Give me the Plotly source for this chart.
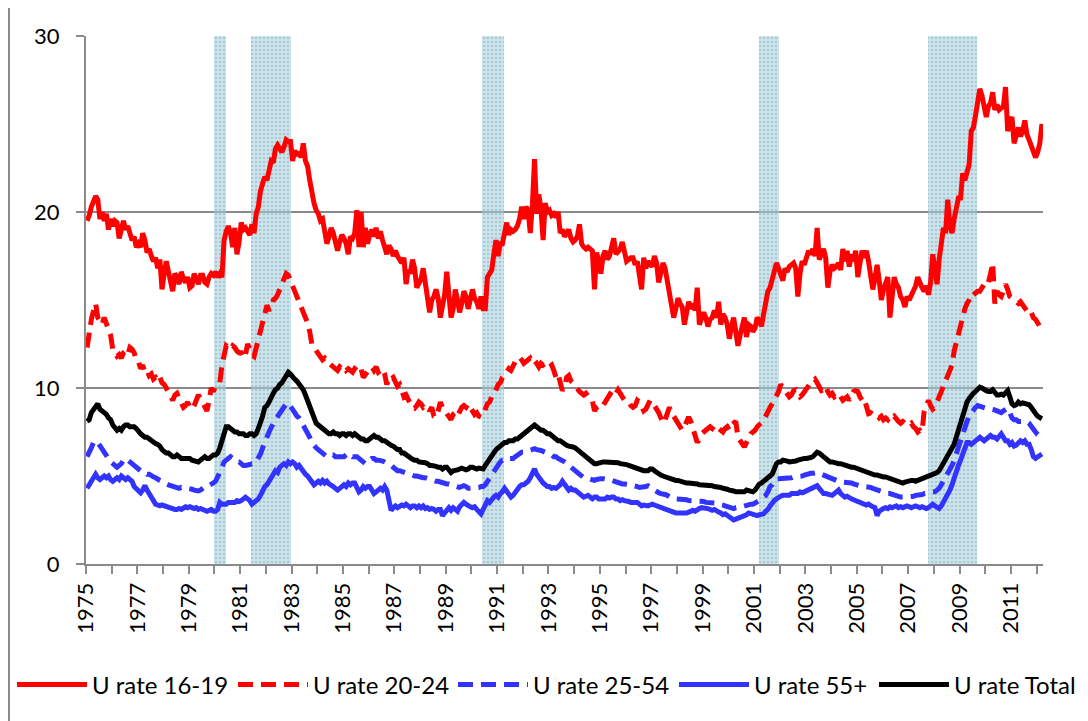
import plotly.graph_objects as go

# monthly unemployment rates, Jan 1975 - Mar 2012 (one row per year)
u_16_19 = [
    19.5, 19.8, 20.3, 20.6, 20.9, 20.7, 19.6, 20.0, 19.5, 19.9, 19.0, 19.6,
    19.2, 19.5, 19.4, 18.5, 19.1, 19.5, 19.0, 19.2, 18.8, 18.4, 18.6, 18.0,
    18.2, 18.0, 18.8, 18.4, 17.7, 17.9, 17.5, 17.2, 17.4, 16.8, 17.3, 15.6,
    16.5, 17.2, 16.6, 15.9, 15.5, 16.5, 16.3, 15.9, 16.6, 16.2, 16.0, 16.3,
    15.7, 15.8, 16.5, 16.2, 15.9, 16.4, 16.4, 16.0, 15.9, 16.3, 16.5, 16.4,
    16.6, 16.3, 16.5, 16.3, 18.4, 18.9, 19.2, 18.8, 18.0, 19.1, 17.6, 18.3,
    19.4, 19.0, 19.1, 18.9, 18.7, 19.3, 18.8, 19.9, 20.3, 21.2, 21.6, 22.0,
    21.8, 22.4, 22.9, 22.8, 23.6, 23.8, 23.6, 23.4, 23.7, 24.1, 24.0, 24.0,
    22.9, 23.5, 23.2, 23.4, 23.1, 23.9, 22.9, 22.6, 21.8, 21.0, 20.5, 20.1,
    19.9, 19.5, 19.6, 18.9, 18.2, 18.6, 19.1, 18.8, 18.4, 17.8, 18.3, 18.7,
    18.5, 18.2, 17.6, 18.6, 18.5, 18.8, 20.1, 18.0, 20.0, 18.0, 19.1, 18.2,
    18.7, 19.0, 18.6, 19.1, 18.5, 18.9, 18.4, 18.0, 17.6, 18.1, 17.9, 17.5,
    17.8, 17.5, 17.3, 17.1, 17.4, 15.9, 16.7, 16.5, 17.3, 16.8, 15.7, 16.0,
    16.2, 16.8, 16.1, 15.4, 14.3, 15.0, 15.2, 15.6, 15.1, 14.0, 14.8, 15.3,
    16.6, 15.3, 14.0, 14.5, 15.6, 15.0, 14.3, 14.8, 15.5, 15.2, 14.5, 15.0,
    15.6, 15.1, 14.9, 14.5, 15.2, 14.5, 14.5, 16.3, 16.5, 16.7, 17.6, 18.4,
    17.5, 18.2, 18.2, 18.7, 19.4, 18.7, 19.0, 18.9, 19.0, 19.2, 19.6, 20.3,
    19.6, 20.3, 20.1, 18.8, 20.4, 23.0, 19.9, 21.0, 20.2, 18.4, 20.5, 20.0,
    20.1, 19.8, 19.9, 19.7, 20.0, 18.8, 19.0, 18.6, 18.8, 19.0, 18.5, 18.3,
    18.4, 18.6, 19.3, 18.2, 18.0, 17.9, 18.0, 17.9, 17.8, 15.6, 17.7, 17.2,
    16.5, 17.5, 17.8, 17.3, 17.5, 18.0, 18.5, 17.6, 17.8, 17.9, 18.3, 17.7,
    17.2, 17.3, 17.4, 17.4, 17.0, 17.2, 16.5, 15.6, 17.4, 16.8, 17.2, 17.0,
    16.9, 17.5, 17.1, 16.0, 16.5, 17.1, 16.8, 16.1, 15.6, 14.9, 14.0, 14.5,
    15.1, 14.8, 14.6, 13.6, 14.2, 14.9, 14.5, 14.8, 14.4, 15.7, 13.6, 14.0,
    14.3, 14.0, 13.5, 13.9, 14.0, 14.4, 14.0, 14.9, 13.6, 14.2, 14.0, 13.6,
    12.8, 13.5, 14.0, 13.2, 12.4, 13.0, 13.5, 14.0, 12.9, 13.6, 13.5, 13.2,
    13.4, 14.0, 13.8, 13.5, 14.2, 15.0, 15.5, 15.7, 16.2, 16.4, 17.1, 16.8,
    16.5, 16.1, 16.8, 16.6, 16.9, 17.0, 17.1, 16.8, 15.2, 16.5, 17.2, 17.0,
    17.4, 17.8, 17.6, 17.9, 17.5, 19.1, 17.3, 17.6, 17.9, 17.4, 15.7, 16.6,
    17.0, 16.8, 16.9, 17.1, 16.7, 17.9, 17.2, 17.8, 16.9, 17.6, 17.2, 17.8,
    16.3, 17.1, 17.8, 17.4, 17.8, 17.2, 16.3, 15.6, 16.2, 17.0, 16.1, 15.0,
    15.6, 16.1, 16.3, 14.0, 15.5, 16.3, 15.9, 15.7, 15.2, 15.0, 14.6, 15.2,
    15.0, 15.3, 15.6, 15.8, 16.3, 15.9, 15.7, 15.5, 15.8, 15.3, 16.0, 17.6,
    16.5, 15.9, 17.3, 18.0, 19.1, 18.8, 20.7, 19.2, 18.8, 19.6, 20.3, 20.8,
    20.8, 22.2, 21.8, 22.4, 22.7, 24.6, 24.8, 25.5, 26.2, 27.0, 26.6, 26.1,
    25.4, 26.0, 26.2, 26.8, 25.8, 26.1, 25.8, 25.9, 26.0, 27.1, 24.6, 25.1,
    25.4, 23.9, 24.5, 24.8, 24.3, 24.6, 25.2, 24.4, 24.1, 23.7, 23.4, 23.1,
    23.4, 23.9, 25.0,
]

u_20_24 = [
    12.3, 13.3, 13.9, 14.4, 14.8, 14.0, 13.8, 13.6, 14.0, 13.7, 13.3, 13.0,
    12.2, 12.0, 11.8, 11.9, 11.7, 12.0, 12.1, 11.9, 12.3, 12.2, 12.0, 11.6,
    11.5, 11.1, 11.3, 10.9, 11.0, 10.7, 10.8, 10.5, 10.6, 10.4, 10.6, 10.3,
    10.2, 10.0, 9.8, 9.5, 9.3, 9.6, 9.7, 9.4, 9.1, 8.9, 9.0, 9.2,
    8.9, 8.8, 9.0, 9.3, 9.6, 9.4, 9.2, 9.0, 8.7, 9.3, 10.0, 9.8,
    10.1, 10.2, 10.3, 11.3, 12.0, 12.4, 12.3, 12.2, 12.4, 12.3, 12.1, 12.0,
    12.0, 11.7, 11.9, 12.5, 12.2, 11.9, 11.8, 12.3, 12.7, 13.1, 13.6, 14.2,
    14.7, 14.4, 14.6, 15.0, 15.1, 15.3, 15.6, 15.9, 16.2, 16.5, 16.4, 16.1,
    15.8, 15.4, 15.1, 14.8, 14.5, 14.2, 14.0, 13.7, 13.2, 12.5, 12.3, 12.1,
    12.0, 11.8, 11.6, 11.7, 11.5, 11.4, 11.3, 11.2, 11.1, 11.0, 11.2, 11.1,
    11.2, 11.0, 11.1, 11.0, 10.9, 11.1, 11.0, 11.2, 11.1, 10.6, 10.8, 11.0,
    11.1, 11.2, 11.0, 11.2, 10.9, 11.0, 11.1, 10.8, 10.2, 10.6, 10.5, 10.6,
    10.4, 10.1, 10.2, 9.9, 9.5, 9.6, 9.3, 9.1, 8.9, 8.85, 9.0, 9.2,
    9.1, 8.9, 9.0, 8.95, 8.7, 8.9, 8.4, 8.35, 8.7, 9.2, 8.9, 8.7,
    8.5, 8.3, 8.2, 8.5, 8.6, 8.4, 8.7, 8.9, 9.0, 8.9, 9.1, 8.9,
    8.7, 8.5, 8.6, 8.4, 8.35, 8.5, 8.8, 9.1, 9.2, 9.5, 9.6, 9.9,
    10.2, 10.3, 10.6, 10.7, 10.9, 11.1, 11.0, 11.3, 11.5, 11.6, 11.75, 11.6,
    11.4, 11.5, 11.6, 11.7, 11.5, 11.3, 11.4, 11.2, 11.4, 11.3, 11.4, 11.4,
    11.2, 11.3, 11.0, 10.6, 10.8, 10.3, 9.85, 10.1, 10.6, 10.7, 10.4, 10.3,
    10.1, 9.9, 9.8, 9.7, 9.6, 9.7, 9.5, 9.4, 9.3, 8.7, 8.9, 9.0,
    9.1, 9.0, 9.2, 9.4, 9.7, 9.8, 9.6, 9.7, 9.9, 9.7, 9.5, 9.3,
    9.3, 9.2, 9.0, 8.9, 9.0, 9.3, 9.2, 8.9, 8.7, 8.8, 9.1, 9.3,
    9.2, 9.0, 8.9, 8.6, 8.3, 8.0, 8.2, 8.7, 8.9, 8.6, 8.35, 8.1,
    8.0, 7.8, 7.6, 7.8, 8.1, 8.35, 8.1, 7.6, 7.2, 6.9, 7.1, 7.4,
    7.5, 7.6, 7.7, 7.8, 7.7, 7.6, 7.8, 7.7, 7.6, 7.5, 7.7, 7.8,
    7.6, 7.9, 8.0, 8.1, 7.2, 7.0, 6.8, 6.65, 6.9, 7.2, 7.4, 7.5,
    7.6, 7.8, 7.9, 8.0, 8.15, 8.4, 8.7, 8.9, 9.1, 9.3, 9.5, 9.8,
    10.2, 10.0, 9.9, 9.7, 9.5, 9.6, 9.85, 9.9, 9.7, 9.5, 9.6, 9.8,
    10.0, 10.2, 10.3, 10.4, 10.5, 10.3, 10.0, 9.85, 9.9, 10.1, 9.8, 9.6,
    9.7, 9.5, 9.6, 9.7, 9.5, 9.3, 9.4, 9.5, 9.3, 9.6, 9.8, 9.85,
    9.8, 9.5, 9.3, 9.4, 9.0, 8.55, 8.6, 8.5, 8.4, 8.45, 8.3, 8.4,
    8.2, 8.3, 8.2, 8.4, 8.3, 8.4, 8.2, 8.1, 8.0, 8.1, 8.0, 8.0,
    7.9, 8.0, 7.8, 7.7, 7.5, 7.6, 7.5, 8.7, 9.0, 9.3, 9.0, 8.8,
    8.9, 9.2, 9.5, 9.7, 10.0, 10.4, 10.6, 11.0, 11.3, 12.1, 12.6, 13.1,
    13.7, 14.2, 14.5, 14.8, 15.0, 15.35, 15.3, 15.4, 15.5, 15.5, 15.7, 15.9,
    15.8, 16.0, 16.5, 17.1, 14.8, 15.5, 15.3, 15.2, 15.5, 15.9, 15.6, 15.2,
    15.1, 15.0, 14.9, 14.8, 14.9, 14.7, 14.5, 14.4, 14.2, 14.3, 14.0, 13.9,
    13.7, 13.5, 13.3,
]

u_25_54 = [
    6.1, 6.3, 6.6, 6.9, 7.0, 6.9, 6.7, 6.5, 6.4, 6.2, 6.0, 5.8,
    5.7, 5.6, 5.5, 5.6, 5.7, 5.9, 6.0, 5.9, 5.8, 5.7, 5.6, 5.5,
    5.4, 5.3, 5.3, 5.2, 5.1, 5.1, 5.0, 4.95, 4.9, 4.8, 4.75, 4.7,
    4.6, 4.55, 4.5, 4.45, 4.4, 4.35, 4.3, 4.3, 4.35, 4.3, 4.3, 4.3,
    4.3, 4.25, 4.2, 4.15, 4.15, 4.2, 4.3, 4.4, 4.4, 4.45, 4.5, 4.6,
    4.7, 4.9, 5.2, 5.5, 5.8, 5.9, 6.0, 6.1, 6.0, 5.9, 5.8, 5.8,
    5.7, 5.6, 5.6, 5.6, 5.65, 5.7, 5.7, 5.8, 6.0, 6.25, 6.6, 7.0,
    7.2, 7.5, 7.8, 8.0, 8.2, 8.4, 8.6, 8.8, 8.9, 9.1, 9.15, 9.0,
    8.8, 8.6, 8.4, 8.3, 8.1, 7.9, 7.7, 7.5, 7.2, 6.9, 6.7, 6.6,
    6.5, 6.4, 6.3, 6.2, 6.1, 6.1, 6.2, 6.2, 6.1, 6.1, 6.1, 6.1,
    6.1, 6.2, 6.3, 6.2, 6.1, 6.1, 6.1, 6.0, 5.9, 5.8, 5.7, 5.8,
    5.9, 6.0, 6.0, 5.9, 5.9, 5.9, 5.85, 5.8, 5.75, 5.7, 5.6, 5.5,
    5.4, 5.3, 5.3, 5.25, 5.2, 5.15, 5.1, 5.1, 5.05, 5.0, 5.0, 4.95,
    4.9, 4.9, 4.9, 4.85, 4.8, 4.75, 4.75, 4.7, 4.7, 4.65, 4.6, 4.6,
    4.55, 4.55, 4.5, 4.45, 4.4, 4.35, 4.35, 4.4, 4.45, 4.4, 4.3, 4.3,
    4.3, 4.3, 4.3, 4.35, 4.4, 4.4, 4.5, 4.7, 4.9, 5.1, 5.3, 5.5,
    5.6, 5.8, 5.9, 5.9, 6.0, 6.0, 6.0, 6.0, 6.1, 6.2, 6.3, 6.35,
    6.35, 6.4, 6.45, 6.5, 6.5, 6.55, 6.5, 6.5, 6.45, 6.4, 6.35, 6.3,
    6.3, 6.2, 6.1, 6.1, 6.0, 5.95, 5.9, 5.8, 5.7, 5.6, 5.5, 5.4,
    5.3, 5.2, 5.1, 5.0, 4.9, 4.9, 4.85, 4.8, 4.75, 4.75, 4.8, 4.85,
    4.85, 4.85, 4.8, 4.8, 4.8, 4.75, 4.75, 4.7, 4.65, 4.6, 4.55, 4.55,
    4.55, 4.5, 4.5, 4.45, 4.45, 4.4, 4.35, 4.35, 4.35, 4.4, 4.45, 4.4,
    4.3, 4.2, 4.1, 4.05, 4.0, 4.0, 3.95, 3.9, 3.8, 3.75, 3.7, 3.7,
    3.7, 3.7, 3.7, 3.65, 3.65, 3.6, 3.6, 3.6, 3.6, 3.55, 3.55, 3.55,
    3.55, 3.5, 3.5, 3.5, 3.5, 3.45, 3.45, 3.4, 3.4, 3.35, 3.3, 3.25,
    3.2, 3.15, 3.15, 3.2, 3.25, 3.25, 3.25, 3.3, 3.3, 3.35, 3.4, 3.4,
    3.45, 3.5, 3.6, 3.7, 3.8, 3.9, 4.1, 4.4, 4.5, 4.7, 4.85, 4.85,
    4.85, 4.85, 4.9, 4.9, 4.9, 4.9, 4.95, 4.95, 5.0, 5.0, 5.0, 5.05,
    5.1, 5.1, 5.15, 5.15, 5.2, 5.2, 5.15, 5.1, 5.0, 5.0, 4.95, 4.9,
    4.85, 4.8, 4.75, 4.7, 4.65, 4.65, 4.65, 4.6, 4.6, 4.6, 4.55, 4.5,
    4.45, 4.45, 4.4, 4.4, 4.4, 4.4, 4.35, 4.3, 4.25, 4.2, 4.2, 4.15,
    4.1, 4.05, 4.0, 4.0, 3.95, 3.9, 3.85, 3.8, 3.8, 3.8, 3.8, 3.8,
    3.8, 3.85, 3.85, 3.9, 3.9, 3.9, 3.95, 4.0, 4.0, 4.0, 4.05, 4.1,
    4.1, 4.2, 4.3, 4.5, 4.7, 4.9, 5.1, 5.3, 5.6, 5.9, 6.3, 6.6,
    7.0, 7.4, 7.8, 8.1, 8.4, 8.6, 8.8, 8.9, 9.0, 8.95, 8.9, 8.85,
    8.85, 8.8, 8.8, 8.8, 8.75, 8.7, 8.65, 8.6, 8.7, 8.8, 8.85, 8.6,
    8.3, 8.2, 8.2, 8.1, 8.1, 8.1, 8.1, 8.1, 8.0, 7.8, 7.6, 7.5,
    7.35, 7.25, 7.2,
]

u_55_plus = [
    4.3, 4.5, 4.8, 5.0, 5.1, 4.9, 4.8, 4.9, 5.0, 4.9, 5.0, 4.8,
    4.7, 4.8, 4.9, 4.8, 5.0, 4.9, 4.8, 4.9, 4.8, 4.7, 4.4, 4.3,
    4.2, 4.05, 4.2, 4.45, 4.2, 4.0, 3.7, 3.5, 3.4, 3.35, 3.3, 3.35,
    3.3, 3.25, 3.2, 3.15, 3.1, 3.1, 3.1, 3.15, 3.1, 3.2, 3.25, 3.2,
    3.25, 3.2, 3.15, 3.2, 3.1, 3.15, 3.1, 3.1, 3.0, 3.05, 3.1, 3.0,
    3.0, 3.1, 3.5, 3.4, 3.4, 3.4, 3.5, 3.5, 3.45, 3.5, 3.6, 3.55,
    3.6, 3.7, 3.8, 3.7, 3.6, 3.4, 3.5, 3.6, 3.7, 3.9, 4.2, 4.4,
    4.5, 4.7, 5.0, 5.1, 5.3, 5.2, 5.5, 5.6, 5.7, 5.6, 5.8, 5.7,
    5.8, 5.7, 5.5, 5.6, 5.4, 5.3, 5.1, 5.0, 4.8, 4.7, 4.5, 4.6,
    4.7, 4.6, 4.75, 4.6, 4.7, 4.55, 4.5, 4.4, 4.3, 4.2, 4.3, 4.4,
    4.5, 4.4, 4.6, 4.5, 4.6, 4.6, 4.3, 4.1, 4.2, 4.4, 4.3, 4.4,
    4.4, 4.2, 4.0, 4.1, 4.2, 4.3, 4.2, 4.4, 4.2, 3.7, 3.05, 3.2,
    3.3, 3.2, 3.3, 3.35, 3.3, 3.4, 3.3, 3.2, 3.3, 3.3, 3.2, 3.3,
    3.2, 3.3, 3.15, 3.2, 3.1, 3.15, 3.1, 3.0, 3.1, 3.1, 2.75, 2.9,
    3.1, 3.2, 3.05, 3.2, 3.1, 3.0, 3.25, 3.4, 3.5, 3.4, 3.3, 3.25,
    3.2, 3.25, 3.1, 3.0, 2.85, 3.1, 3.3, 3.6, 3.5, 3.7, 3.8, 3.9,
    3.8, 4.0, 4.1, 4.3, 4.1, 4.0, 3.8, 3.9, 4.1, 4.2, 4.4, 4.5,
    4.5, 4.6, 4.7, 4.9, 5.2, 5.4, 5.1, 4.9, 4.75, 4.6, 4.5, 4.4,
    4.4, 4.3, 4.35, 4.3, 4.4, 4.5, 4.7, 4.5, 4.3, 4.2, 4.3, 4.2,
    4.2, 4.1, 4.0, 3.9, 3.8, 3.85, 3.9, 3.8, 3.7, 3.8, 3.8, 3.7,
    3.7, 3.75, 3.7, 3.8, 3.75, 3.8, 3.8, 3.7, 3.7, 3.6, 3.65, 3.6,
    3.6, 3.55, 3.5, 3.5, 3.45, 3.5, 3.4, 3.3, 3.35, 3.3, 3.3, 3.35,
    3.4, 3.35, 3.3, 3.3, 3.2, 3.2, 3.1, 3.05, 3.0, 2.95, 2.9, 2.9,
    2.9, 2.9, 2.9, 2.85, 2.9, 2.95, 3.0, 3.05, 3.0, 3.1, 3.15, 3.2,
    3.2, 3.2, 3.15, 3.1, 3.05, 3.1, 3.0, 2.95, 2.9, 2.8, 2.85, 2.75,
    2.7, 2.6, 2.5, 2.55, 2.6, 2.65, 2.65, 2.7, 2.8, 2.9, 2.85, 2.8,
    2.8, 2.75, 2.8, 2.8, 2.85, 3.0, 3.1, 3.3, 3.5, 3.6, 3.7, 3.8,
    3.85, 3.9, 3.9, 3.95, 3.9, 4.0, 4.0, 4.05, 4.0, 4.1, 4.05, 4.1,
    4.15, 4.2, 4.25, 4.3, 4.35, 4.45, 4.3, 4.1, 4.0, 4.0, 3.95, 3.9,
    3.9, 4.0, 4.1, 4.2, 4.0, 3.9, 3.8, 3.85, 3.75, 3.7, 3.65, 3.6,
    3.6, 3.5, 3.45, 3.4, 3.35, 3.4, 3.3, 3.25, 3.2, 2.75, 3.0, 3.1,
    3.15, 3.2, 3.15, 3.25, 3.2, 3.25, 3.3, 3.2, 3.25, 3.2, 3.25, 3.3,
    3.25, 3.2, 3.25, 3.3, 3.25, 3.2, 3.25, 3.2, 3.15, 3.2, 3.3, 3.4,
    3.3, 3.2, 3.15, 3.3, 3.5, 3.7, 3.9, 4.2, 4.5, 4.95, 5.3, 5.6,
    5.9, 6.3, 6.6, 6.9, 6.9, 6.8, 6.9, 7.0, 7.1, 7.2, 7.1, 7.0,
    7.1, 7.2, 7.3, 7.2, 7.2, 7.1, 7.3, 7.4, 7.2, 7.0, 7.0, 6.8,
    6.9, 6.7, 6.75, 6.9, 7.0, 6.9, 7.0, 6.8, 6.8, 6.5, 6.1, 6.0,
    6.1, 6.2, 6.25,
]

u_total = [
    8.1, 8.2, 8.6, 8.8, 9.0, 9.1, 8.8, 8.7, 8.6, 8.5, 8.3, 8.2,
    7.9, 7.7, 7.6, 7.7, 7.6, 7.8, 7.9, 7.9, 7.8, 7.8, 7.8, 7.7,
    7.5, 7.4, 7.3, 7.2, 7.2, 7.1, 7.0, 6.9, 6.85, 6.8, 6.7, 6.5,
    6.4, 6.3, 6.3, 6.2, 6.1, 6.1, 6.2, 6.1, 6.0, 6.0, 6.0, 6.0,
    6.0, 5.9, 5.85, 5.8, 5.8, 5.9, 6.0, 6.1, 6.0, 6.0, 6.1, 6.2,
    6.2, 6.3, 6.6, 7.0, 7.5, 7.8, 7.8, 7.7, 7.6, 7.5, 7.5, 7.4,
    7.4, 7.4, 7.3, 7.3, 7.4, 7.4, 7.3, 7.4, 7.7, 8.0, 8.4, 8.9,
    9.0, 9.2, 9.5, 9.7, 9.9, 10.0, 10.2, 10.3, 10.5, 10.7, 10.9, 10.8,
    10.6, 10.5, 10.4, 10.25, 10.1, 9.9, 9.6, 9.3, 8.9, 8.6, 8.3, 8.0,
    7.9, 7.8, 7.7, 7.6, 7.5, 7.4, 7.4, 7.5, 7.4, 7.4, 7.3, 7.4,
    7.4, 7.3, 7.4, 7.4, 7.3, 7.4, 7.3, 7.2, 7.1, 7.1, 7.0, 7.0,
    7.1, 7.2, 7.3, 7.2, 7.2, 7.1, 7.0, 7.0, 6.9, 6.8, 6.75, 6.7,
    6.6, 6.5, 6.5, 6.3, 6.3, 6.2, 6.1, 6.0, 5.95, 5.9, 5.9, 5.8,
    5.8, 5.8, 5.75, 5.7, 5.6, 5.6, 5.6, 5.55, 5.5, 5.5, 5.4, 5.5,
    5.5, 5.3, 5.2, 5.3, 5.3, 5.35, 5.4, 5.45, 5.4, 5.35, 5.4, 5.5,
    5.5, 5.45, 5.4, 5.45, 5.4, 5.4, 5.6, 5.8, 6.0, 6.1, 6.3, 6.5,
    6.6, 6.7, 6.8, 6.9, 6.9, 7.0, 7.0, 7.0, 7.1, 7.1, 7.2, 7.3,
    7.45, 7.5, 7.6, 7.7, 7.8, 7.9, 7.8, 7.7, 7.6, 7.6, 7.5, 7.4,
    7.4, 7.3, 7.2, 7.1, 7.0, 7.0, 6.9, 6.8, 6.75, 6.7, 6.7, 6.65,
    6.6, 6.5, 6.4, 6.3, 6.2, 6.1, 6.0, 5.9, 5.8, 5.7, 5.7, 5.75,
    5.8, 5.8, 5.8, 5.8, 5.8, 5.8, 5.8, 5.8, 5.75, 5.7, 5.7, 5.7,
    5.65, 5.6, 5.55, 5.5, 5.5, 5.4, 5.35, 5.3, 5.3, 5.3, 5.3, 5.4,
    5.4, 5.3, 5.2, 5.1, 5.05, 5.0, 4.95, 4.9, 4.9, 4.85, 4.8, 4.75,
    4.75, 4.7, 4.7, 4.65, 4.6, 4.6, 4.6, 4.55, 4.55, 4.55, 4.5, 4.5,
    4.5, 4.5, 4.45, 4.45, 4.45, 4.4, 4.4, 4.4, 4.35, 4.3, 4.3, 4.25,
    4.2, 4.2, 4.15, 4.1, 4.1, 4.1, 4.1, 4.1, 4.2, 4.15, 4.1, 4.1,
    4.2, 4.4, 4.55, 4.6, 4.7, 4.75, 4.85, 5.0, 5.1, 5.4, 5.7, 5.8,
    5.8, 5.9, 5.9, 5.85, 5.8, 5.8, 5.8, 5.85, 5.9, 5.95, 6.0, 6.0,
    6.0, 6.0, 6.05, 6.1, 6.2, 6.35, 6.3, 6.2, 6.1, 6.0, 5.9, 5.8,
    5.8, 5.75, 5.75, 5.7, 5.7, 5.65, 5.6, 5.55, 5.5, 5.5, 5.5, 5.45,
    5.45, 5.4, 5.35, 5.3, 5.25, 5.2, 5.15, 5.1, 5.05, 5.05, 5.0, 5.0,
    4.95, 4.95, 4.9, 4.85, 4.8, 4.75, 4.75, 4.7, 4.65, 4.6, 4.65, 4.7,
    4.7, 4.75, 4.75, 4.7, 4.75, 4.8, 4.85, 4.9, 4.95, 4.95, 5.0, 5.05,
    5.1, 5.2, 5.3, 5.5, 5.7, 5.9, 6.1, 6.3, 6.5, 6.8, 7.2, 7.6,
    8.1, 8.5, 8.8, 9.2, 9.4, 9.6, 9.7, 9.8, 9.9, 10.05, 10.0, 9.9,
    9.85, 9.8, 9.8, 9.9, 9.7, 9.6, 9.6, 9.65, 9.6, 9.7, 9.85, 9.5,
    9.1, 9.0, 9.05, 9.2, 9.1, 9.15, 9.1, 9.1, 9.05, 8.9, 8.65, 8.55,
    8.4, 8.3, 8.25,
]

# NBER recessions, in decimal years
recession_start = [1980.0, 1981.42, 1990.40, 2001.20, 2007.76]
recession_end = [1980.46, 1982.96, 1991.27, 2001.96, 2009.70]

tick_years = list(range(1975, 2013))
tick_text = [str(y) if (y - 1975) % 2 == 0 else "" for y in tick_years]


def months(values):
    return [1975 + (i + 0.5) / 12 for i in range(len(values))]


# name, values, colour, dash, legend left edge (paper x)
series = [
    ("U rate 16-19", u_16_19, "#FF0000", "solid", -0.0773),
    ("U rate 20-24", u_20_24, "#FF0000", "15px,8px", 0.1536),
    ("U rate 25-54", u_25_54, "#3333FF", "15px,8px", 0.3835),
    ("U rate 55+", u_55_plus, "#3333FF", "solid", 0.6144),
    ("U rate Total", u_total, "#000000", "solid", 0.8234),
]

fig = go.Figure()
legends = {}
for i, (name, values, color, dash, legend_x) in enumerate(series):
    key = "legend" if i == 0 else f"legend{i + 1}"
    fig.add_trace(
        go.Scatter(
            x=months(values),
            y=values,
            name=name,
            mode="lines",
            line=dict(color=color, width=5, dash=dash),
            legend=key,
        )
    )
    legends[key] = dict(
        orientation="h",
        x=legend_x,
        xanchor="left",
        y=-0.229,
        yanchor="middle",
        itemwidth=70,
        font=dict(size=24),
        bgcolor="rgba(0,0,0,0)",
    )

fig.add_trace(
    go.Bar(
        x=[(s + e) / 2 for s, e in zip(recession_start, recession_end)],
        y=[30] * len(recession_start),
        width=[e - s for s, e in zip(recession_start, recession_end)],
        marker=dict(
            color="rgba(150,195,210,0.55)",
            line=dict(width=0),
            pattern=dict(
                shape=".",
                size=4,
                solidity=0.35,
                fgcolor="rgba(105,155,175,0.75)",
                bgcolor="rgba(165,205,218,0.55)",
            ),
        ),
        showlegend=False,
        hoverinfo="skip",
    )
)

# the page body adds an 8px margin, so the figure is 8px smaller each way
axis_grey = "#8A8A8A"
fig.update_layout(
    width=1080,
    height=713,
    margin=dict(l=78, r=45, t=28, b=157, autoexpand=False),
    paper_bgcolor="white",
    plot_bgcolor="white",
    font=dict(family="Lato, sans-serif", size=22, color="black"),
    bargap=0,
    xaxis=dict(
        range=[1975, 2012.25],
        tickvals=tick_years,
        ticktext=tick_text,
        tickangle=-90,
        ticks="outside",
        ticklen=8,
        tickwidth=2,
        tickcolor=axis_grey,
        showline=True,
        linecolor=axis_grey,
        linewidth=2,
        showgrid=False,
        zeroline=False,
        automargin=False,
    ),
    yaxis=dict(
        range=[0, 30],
        tickvals=[0, 10, 20, 30],
        ticks="outside",
        ticklen=8,
        tickwidth=2,
        tickcolor=axis_grey,
        ticklabelstandoff=12,
        showline=True,
        linecolor=axis_grey,
        linewidth=2,
        showgrid=True,
        gridcolor=axis_grey,
        gridwidth=2,
        zeroline=False,
        automargin=False,
    ),
    **legends,
)

# left edge of the chart frame
fig.add_shape(
    type="line",
    xref="paper",
    yref="paper",
    x0=-0.0805,
    x1=-0.0805,
    y0=-0.31,
    y1=1.08,
    line=dict(color=axis_grey, width=2),
)

fig.write_html("out.html")
